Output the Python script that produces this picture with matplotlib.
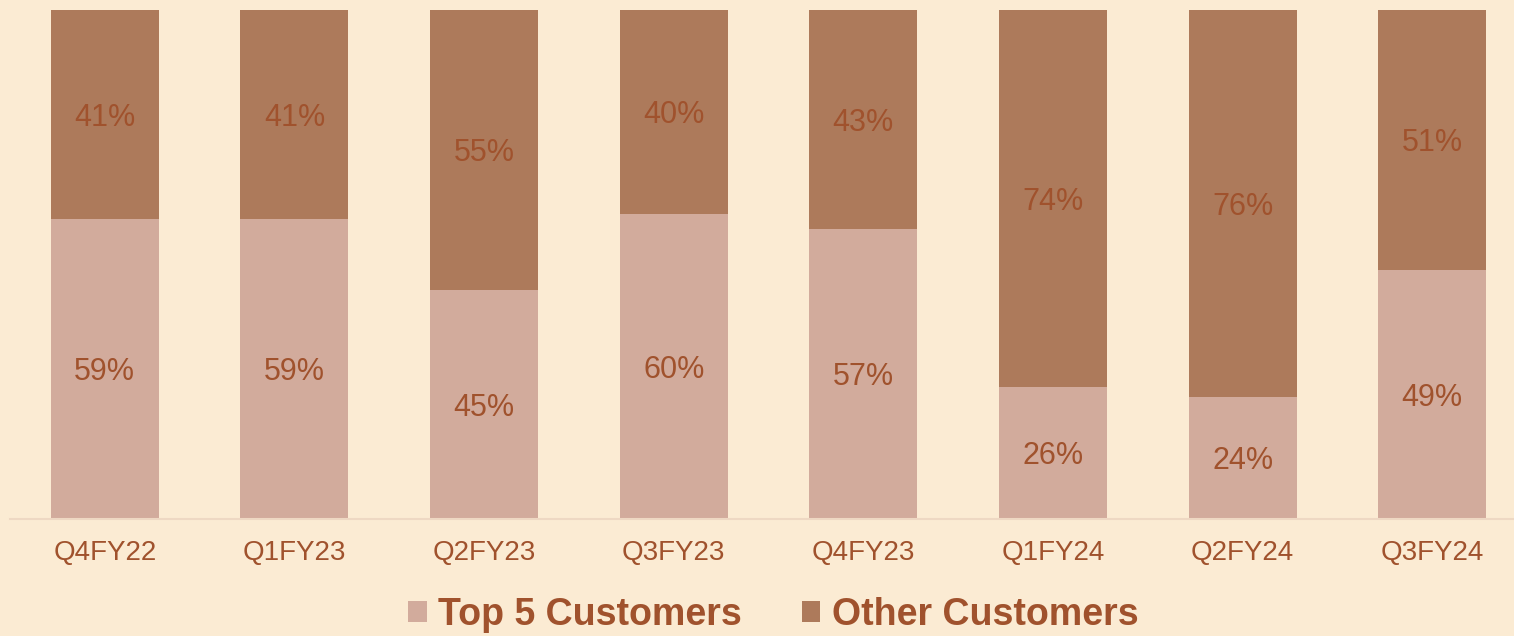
import matplotlib
matplotlib.use("Agg")
import matplotlib.pyplot as plt
from matplotlib.patches import Patch

categories = ["Q4FY22", "Q1FY23", "Q2FY23", "Q3FY23", "Q4FY23", "Q1FY24", "Q2FY24", "Q3FY24"]
top5 = [59, 59, 45, 60, 57, 26, 24, 49]
others = [41, 41, 55, 40, 43, 74, 76, 51]
series_names = ["Top 5 Customers", "Other Customers"]

bg = "#FBEBD3"
c_top = "#D2AB9C"
c_other = "#AD7A5B"
txt = "#A0522D"

plt.rcParams["font.family"] = ["Liberation Sans", "DejaVu Sans"]

fig = plt.figure(figsize=(15.14, 6.36), dpi=100, facecolor=bg)
ax = fig.add_axes([10/1514, 1-519/636, 1-10/1514, 509/636])
ax.set_facecolor(bg)

x = list(range(len(categories)))
w = 0.57
ax.bar(x, top5, width=w, color=c_top)
ax.bar(x, others, width=w, bottom=top5, color=c_other)

for i in x:
    ax.text(i, top5[i]/2, f"{top5[i]}%", ha="center", va="center_baseline", fontsize=22, color=txt)
    ax.text(i, top5[i] + others[i]/2, f"{others[i]}%", ha="center", va="center_baseline", fontsize=22, color=txt)

ax.set_xlim(-0.5, 7.5 - 13/189.6)
ax.set_ylim(0, 100)
ax.set_xticks(x)
ax.set_xticklabels(categories, fontsize=20, color=txt)
ax.tick_params(axis="x", length=0, pad=15)
ax.set_yticks([])
for s in ["top", "right", "left"]:
    ax.spines[s].set_visible(False)
ax.spines["bottom"].set_color("#EED8C3")
ax.spines["bottom"].set_linewidth(1.5)

handles = [Patch(facecolor=c_top, edgecolor="none"), Patch(facecolor=c_other, edgecolor="none")]
leg = fig.legend(handles, series_names, loc="center", bbox_to_anchor=(773/1514, 1-615/636),
                 ncol=2, frameon=False, handlelength=0.5, handleheight=0.5, handletextpad=0.3,
                 columnspacing=1.6, prop={"size": 27, "weight": "bold"})
for t in leg.get_texts():
    t.set_color(txt)

fig.savefig("out.png", dpi=100, facecolor=bg)
